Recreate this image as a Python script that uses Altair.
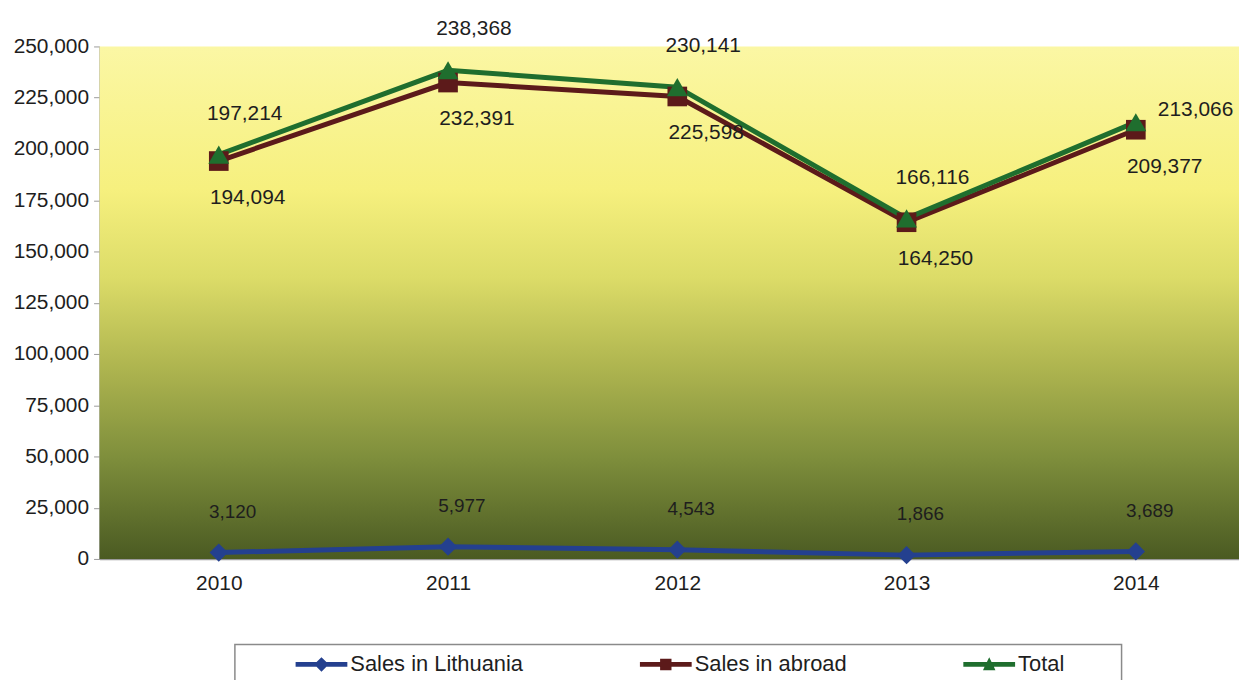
import altair as alt
import pandas as pd

# ---- data ----
years = [2010, 2011, 2012, 2013, 2014]
sales_lithuania = [3120, 5977, 4543, 1866, 3689]
sales_abroad = [194094, 232391, 225598, 164250, 209377]
sales_total = [197214, 238368, 230141, 166116, 213066]
series_names = ["Sales in Lithuania", "Sales in abroad", "Total"]
series_colors = ["#24408f", "#5c1a1a", "#1f6e2e"]
marker_sizes = [340, 440, 480]
y_ticks = list(range(0, 250001, 25000))

rows = []
for name, vals in zip(series_names, [sales_lithuania, sales_abroad, sales_total]):
    for yr, v in zip(years, vals):
        rows.append({"year": yr, "value": v, "series": name, "label": f"{v:,}"})
df = pd.DataFrame(rows)

W, H = 1145, 515
FONT = "Liberation Sans"
TXT = "#1e1e1e"

x_enc = alt.X(
    "year:Q",
    scale=alt.Scale(domain=[2009.48, 2014.45], nice=False, zero=False),
    axis=alt.Axis(values=years, format="d", title=None, grid=False, ticks=False,
                  labelPadding=14, labelFontSize=21, labelFont=FONT, labelColor=TXT,
                  domainColor="#9a9a9a", domainWidth=1.5),
)
y_enc = alt.Y(
    "value:Q",
    scale=alt.Scale(domain=[0, 250000], nice=False),
    axis=alt.Axis(values=y_ticks, format=",d", title=None, grid=False,
                  tickSize=6, tickColor="#9a9a9a", labelPadding=5,
                  labelFontSize=21, labelFont=FONT, labelColor=TXT,
                  domainColor="#9a9a9a", domainWidth=1.5),
)
color_enc = alt.Color("series:N", scale=alt.Scale(domain=series_names, range=series_colors), legend=None)

# gradient plot background
bg = alt.Chart(pd.DataFrame({"a": [0]})).mark_rect(
    fill=alt.Gradient(
        gradient="linear", x1=0, y1=0, x2=0, y2=1,
        stops=[
            alt.GradientStop(offset=0.0, color="#fbf7a4"),
            alt.GradientStop(offset=0.28, color="#f6f07e"),
            alt.GradientStop(offset=0.45, color="#dcdc68"),
            alt.GradientStop(offset=0.62, color="#b0b650"),
            alt.GradientStop(offset=0.8, color="#7f8f3c"),
            alt.GradientStop(offset=1.0, color="#4a5a22"),
        ],
    )
).encode(x=alt.value(0), x2=alt.value(W), y=alt.value(0), y2=alt.value(H))

lines = alt.Chart(df).mark_line(strokeWidth=5).encode(
    x=x_enc, y=y_enc, color=color_enc, detail="series:N"
)

points = alt.Chart(df).mark_point(filled=True, opacity=1).encode(
    x=x_enc, y=y_enc, color=color_enc,
    shape=alt.Shape("series:N", scale=alt.Scale(domain=series_names,
                    range=["diamond", "square", "triangle-up"]), legend=None),
    size=alt.Size("series:N", scale=alt.Scale(domain=series_names, range=marker_sizes), legend=None),
)

def labels(flt, dx, dy, size=21):
    return alt.Chart(df).transform_filter(flt).mark_text(
        dx=dx, dy=dy, fontSize=size, font=FONT, color=TXT, baseline="middle", align="center"
    ).encode(x=x_enc, y=y_enc, text="label:N")

lab_total = labels((alt.datum.series == "Total") & (alt.datum.year != 2014), 26, -41)
lab_total_last = labels((alt.datum.series == "Total") & (alt.datum.year == 2014), 60, -12)
lab_abroad = labels(alt.datum.series == "Sales in abroad", 29, 37)
lab_lt = labels(alt.datum.series == "Sales in Lithuania", 14, -41, 19)

# legend frame
frame = alt.Chart(pd.DataFrame({"a": [0]})).mark_rect(
    fill="white", stroke="#8a8a8a", strokeWidth=1.5
).encode(x=alt.value(136), x2=alt.value(1027), y=alt.value(601), y2=alt.value(690))

# legend symbols: line with marker
diamond_path = "M-1,-0.09H-0.19L0,-0.28L0.19,-0.09H1V0.09H0.19L0,0.28L-0.19,0.09H-1Z"
square_path = "M-1,-0.09H-0.22V-0.22H0.22V-0.09H1V0.09H0.22V0.22H-0.22V0.09H-1Z"
triangle_path = "M-1,-0.09H-0.09L0,-0.28L0.09,-0.09H1V0.09H0.18L0.24,0.22H-0.24L-0.18,0.09H-1Z"

leg_def = alt.Legend(
    title=None, orient="none", legendX=197, legendY=595, direction="horizontal",
    columns=3, columnPadding=117, labelFontSize=22, labelFont=FONT, labelColor=TXT,
    symbolSize=2704, symbolStrokeWidth=0, labelOffset=3, padding=0, labelLimit=400,
)
legend_layer = alt.Chart(df).mark_point(filled=True, opacity=1).encode(
    x=x_enc, y=alt.value(-3000),
    color=alt.Color("series:N", scale=alt.Scale(domain=series_names, range=series_colors), legend=leg_def),
    shape=alt.Shape("series:N", scale=alt.Scale(domain=series_names,
                    range=[diamond_path, square_path, triangle_path]), legend=leg_def),
)

chart = alt.layer(
    bg, lines, points, lab_total, lab_total_last, lab_abroad, lab_lt, frame, legend_layer
).resolve_scale(shape="independent", color="independent", size="independent").properties(
    width=W, height=H,
    autosize=alt.AutoSizeParams(type="none"),
    padding={"left": 92, "top": 37, "right": 0, "bottom": 120},
    background="white",
).configure_view(stroke=None)

chart.save("out.html", embed_options={"renderer": "svg", "actions": False})
